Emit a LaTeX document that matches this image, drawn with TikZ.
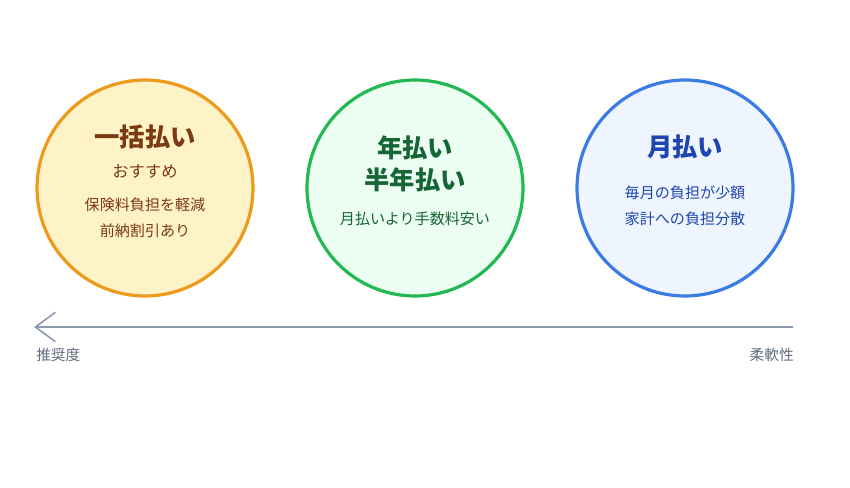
\documentclass[tikz,border=0pt]{standalone}
\usepackage{fontspec}
\newfontfamily\jp{Noto Sans CJK JP}
\usetikzlibrary{arrows.meta}
\definecolor{orfill}{HTML}{FEF3C7}
\definecolor{ordraw}{HTML}{EC9B1C}
\definecolor{ortext}{HTML}{7C3A12}
\definecolor{grfill}{HTML}{ECFDF1}
\definecolor{grdraw}{HTML}{22B953}
\definecolor{grtext}{HTML}{166534}
\definecolor{blfill}{HTML}{EEF5FF}
\definecolor{bldraw}{HTML}{3B7BE3}
\definecolor{bltext}{HTML}{1E45B0}
\definecolor{axis}{HTML}{8C99AC}
\definecolor{axtext}{HTML}{5F6B7C}
\tikzset{
  disc/.style={circle, minimum size=216*0.75pt, line width=2.4pt, inner sep=0pt},
  ttl/.style={font=\jp\bfseries\fontsize{19}{23}\selectfont, inner sep=0pt, anchor=center},
  sub/.style={font=\jp\fontsize{11.3}{14}\selectfont, inner sep=0pt, anchor=center},
  rec/.style={font=\jp\fontsize{12.2}{15}\selectfont, inner sep=0pt, anchor=center},
  axlbl/.style={font=\jp\fontsize{11}{13}\selectfont, text=axtext, inner sep=0pt},
}
\begin{document}
\begin{tikzpicture}[x=0.75pt, y=-0.75pt]
\useasboundingbox (0,0) rectangle (850,488);
% left
\node[disc, fill=orfill, draw=ordraw] (c1) at (145,188) {};
\node[ttl, text=ortext] (t1) at (145,137) {一括払い};
\node[rec, text=ortext] (r1) at (145,171) {おすすめ};
\node[sub, text=ortext] (s1a) at (145,205) {保険料負担を軽減};
\node[sub, text=ortext] (s1b) at (145,231) {前納割引あり};
% middle
\node[disc, fill=grfill, draw=grdraw] (c2) at (415,188) {};
\node[ttl, text=grtext] (t2a) at (415,148) {年払い};
\node[ttl, text=grtext] (t2b) at (415,180) {半年払い};
\node[sub, text=grtext] (s2) at (415,219) {月払いより手数料安い};
% right
\node[disc, fill=blfill, draw=bldraw] (c3) at (685,188) {};
\node[ttl, text=bltext] (t3) at (685,147) {月払い};
\node[sub, text=bltext] (s3a) at (685,193) {毎月の負担が少額};
\node[sub, text=bltext] (s3b) at (685,219) {家計への負担分散};
% axis
\coordinate (ar) at (793,327);
\coordinate (al) at (34,327);
\draw[axis, line width=1.5pt, -{Straight Barb[length=15pt, width=22pt, line width=1.2pt]}] (ar) -- (al);
\node[axlbl, anchor=west] (lbl) at (36,355) {推奨度};
\node[axlbl, anchor=east] (lbr) at (794,355) {柔軟性};
\end{tikzpicture}
\end{document}
